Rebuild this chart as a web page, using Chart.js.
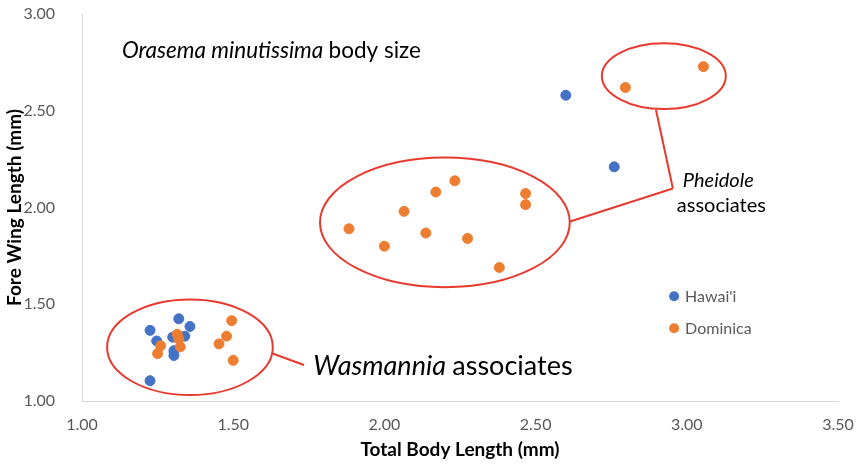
<!DOCTYPE html>
<html>
<head>
<meta charset="utf-8">
<script src="https://cdn.jsdelivr.net/npm/chart.js@4/dist/chart.umd.min.js"></script>
<style>
  html, body { margin: 0; padding: 0; background: #fff; }
  #wrap { width: 857px; height: 465px; }
</style>
</head>
<body>
<div id="wrap"><canvas id="bodyChart" width="857" height="465"></canvas></div>
<script>
// Data
const seriesNames = ['Hawai\'i', 'Dominica'];
const hawaiiBody = [2.60, 2.76, 1.225, 1.32, 1.357, 1.247, 1.30, 1.34, 1.304, 1.304, 1.225];
const hawaiiWing = [2.58, 2.21, 1.365, 1.425, 1.385, 1.31, 1.33, 1.335, 1.26, 1.235, 1.105];
const dominicaBody = [1.26, 1.25, 1.315, 1.32, 1.325, 1.495, 1.478, 1.453, 1.50,
  1.883, 2.00, 2.065, 2.137, 2.17, 2.233, 2.275, 2.38, 2.467, 2.467, 2.797, 3.055];
const dominicaWing = [1.285, 1.245, 1.345, 1.32, 1.28, 1.415, 1.335, 1.295, 1.21,
  1.89, 1.80, 1.98, 1.868, 2.08, 2.138, 1.84, 1.69, 2.072, 2.015, 2.62, 2.728];
const xRange = [1.0, 3.5];
const yRange = [1.0, 3.0];
const tickStep = 0.5;

const BLUE = '#4472c4';
const ORANGE = '#ed7d31';
const RED = '#e8392f';
const FONT = 'Lato, "Open Sans", sans-serif';

const toPoints = (xs, ys) => xs.map((x, i) => ({x: x, y: ys[i]}));

// Ellipses / callouts, in data units
const ellipses = [
  {cx: 1.357, cy: 1.278, rx: 0.274, ry: 0.247},
  {cx: 2.20, cy: 1.923, rx: 0.413, ry: 0.335},
  {cx: 2.924, cy: 2.679, rx: 0.205, ry: 0.170}
];
const leaders = [
  [2.898, 2.505, 2.954, 2.098],
  [2.614, 1.928, 2.954, 2.098],
  [1.628, 1.247, 1.734, 1.186]
];

const annotations = {
  id: 'annotations',
  afterDatasetsDraw(chart) {
    const ctx = chart.ctx;
    const xs = chart.scales.x, ys = chart.scales.y;
    const px = v => xs.getPixelForValue(v);
    const py = v => ys.getPixelForValue(v);
    ctx.save();
    ctx.strokeStyle = RED;
    ctx.lineWidth = 2;
    ellipses.forEach(e => {
      const cx = px(e.cx), cy = py(e.cy);
      const rx = px(e.cx + e.rx) - cx, ry = cy - py(e.cy + e.ry);
      ctx.beginPath();
      ctx.ellipse(cx, cy, rx, ry, 0, 0, Math.PI * 2);
      ctx.stroke();
    });
    leaders.forEach(l => {
      ctx.beginPath();
      ctx.moveTo(px(l[0]), py(l[1]));
      ctx.lineTo(px(l[2]), py(l[3]));
      ctx.stroke();
    });

    ctx.fillStyle = '#000';
    ctx.textBaseline = 'alphabetic';
    ctx.textAlign = 'left';
    // title
    let x = px(1.132), y = py(2.773);
    ctx.font = 'italic 22.5px ' + FONT;
    ctx.fillText('Orasema minutissima', x, y);
    x += ctx.measureText('Orasema minutissima ').width;
    ctx.font = '22.5px ' + FONT;
    ctx.fillText('body size', x, y);

    // Pheidole
    ctx.font = 'italic 20px ' + FONT;
    ctx.fillText('Pheidole', px(2.987), py(2.107));
    ctx.font = '20px ' + FONT;
    ctx.fillText('associates', px(2.967), py(1.979));

    // Wasmannia
    x = px(1.765); y = py(1.134);
    ctx.font = 'italic 27px ' + FONT;
    ctx.fillText('Wasmannia', x, y);
    x += ctx.measureText('Wasmannia ').width;
    ctx.font = '27px ' + FONT;
    ctx.fillText('associates', x, y);

    // legend
    const colors = [BLUE, ORANGE];
    const legY = [1.541, 1.376];
    ctx.font = '16px ' + FONT;
    ctx.textBaseline = 'middle';
    seriesNames.forEach((name, i) => {
      const lx = px(2.958), ly = py(legY[i]);
      ctx.fillStyle = colors[i];
      ctx.beginPath();
      ctx.arc(lx, ly, 5, 0, Math.PI * 2);
      ctx.fill();
      ctx.fillStyle = '#595959';
      ctx.fillText(name, lx + 11, ly + 1);
    });
    ctx.restore();
  }
};

new Chart(document.getElementById('bodyChart'), {
  type: 'scatter',
  data: {
    datasets: [
      {
        label: seriesNames[0],
        data: toPoints(hawaiiBody, hawaiiWing),
        backgroundColor: BLUE,
        borderColor: BLUE,
        pointRadius: 5,
        order: 1
      },
      {
        label: seriesNames[1],
        data: toPoints(dominicaBody, dominicaWing),
        backgroundColor: ORANGE,
        borderColor: ORANGE,
        pointRadius: 5,
        order: 0
      }
    ]
  },
  options: {
    responsive: false,
    animation: false,
    layout: { padding: { left: 0, right: 19, top: 14, bottom: 0 } },
    plugins: { legend: { display: false }, tooltip: { enabled: false } },
    scales: {
      x: {
        type: 'linear',
        min: xRange[0], max: xRange[1],
        grid: { display: false },
        border: { display: true, color: '#d9d9d9', width: 1 },
        ticks: {
          stepSize: tickStep, color: '#595959', padding: 6,
          font: { family: FONT, size: 16 },
          callback: v => v.toFixed(2)
        },
        title: {
          display: true, text: 'Total Body Length (mm)', color: '#000',
          font: { family: FONT, size: 19, weight: 'bold' },
          padding: { top: 0, bottom: 4 }
        },
        afterFit: s => { s.height = 64; s.paddingLeft = 0; s.paddingRight = 0; }
      },
      y: {
        type: 'linear',
        min: yRange[0], max: yRange[1],
        grid: { display: false },
        border: { display: true, color: '#d9d9d9', width: 1 },
        ticks: {
          stepSize: tickStep, color: '#595959', padding: 19,
          font: { family: FONT, size: 16 },
          callback: v => v.toFixed(2)
        },
        title: {
          display: true, text: 'Fore Wing Length (mm)', color: '#000',
          font: { family: FONT, size: 19, weight: 'bold' },
          padding: { top: 3, bottom: 0 }
        },
        afterFit: s => { s.width = 82; s.paddingTop = 0; s.paddingBottom = 0; }
      }
    }
  },
  plugins: [annotations]
});
</script>
</body>
</html>
